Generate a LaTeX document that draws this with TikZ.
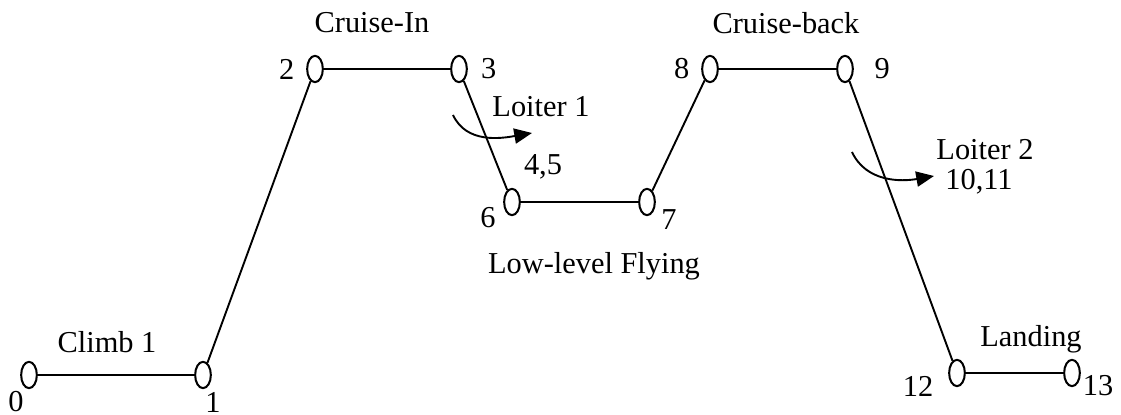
\documentclass[tikz,border=0pt]{standalone}
\usepackage{fontspec}
\setmainfont{Liberation Serif}
\usetikzlibrary{arrows.meta,positioning,shapes.geometric}

\begin{document}
\begin{tikzpicture}[
  x=0.395pt, y=-0.395pt,
  wpt/.style={ellipse, draw=black, line width=0.8pt, fill=white,
    minimum width=6.2pt, minimum height=10.4pt, inner sep=0pt},
  leg/.style={line width=0.75pt},
  num/.style={inner sep=0pt, font=\fontsize{12}{14}\selectfont},
  phase/.style={inner sep=0pt, font=\fontsize{12}{14}\selectfont},
  turn/.style={line width=0.75pt, -{Triangle[length=7pt, width=6pt]}},
]
  \useasboundingbox (0,0) rectangle (1121,415);

  % mission points
  \node[wpt] (p0)  at (29,375)   {};
  \node[wpt] (p1)  at (203,375)  {};
  \node[wpt] (p2)  at (315,69)   {};
  \node[wpt] (p3)  at (459,69)   {};
  \node[wpt] (p6)  at (512,202)  {};
  \node[wpt] (p7)  at (647,202)  {};
  \node[wpt] (p8)  at (710,69)   {};
  \node[wpt] (p9)  at (845,69)   {};
  \node[wpt] (p12) at (957,373)  {};
  \node[wpt] (p13) at (1072,373) {};

  \draw[leg] (p0) -- (p1);
  \draw[leg] (p1) -- (p2);
  \draw[leg] (p2) -- (p3);
  \draw[leg] (p3) -- (p6);
  \draw[leg] (p6) -- (p7);
  \draw[leg] (p7) -- (p8);
  \draw[leg] (p8) -- (p9);
  \draw[leg] (p9) -- (p12);
  \draw[leg] (p12) -- (p13);

  % point numbers
  \node[num] (n0)  at (16,402)   {0};
  \node[num] (n1)  at (213,402)  {1};
  \node[num, left=4.5pt of p2]  (n2)  {2};
  \node[num, right=5pt of p3]   (n3)  {3};
  \node[num] (n6)  at (488,218)  {6};
  \node[num] (n7)  at (669,220)  {7};
  \node[num, left=4.5pt of p8]  (n8)  {8};
  \node[num, right=8pt of p9]   (n9)  {9};
  \node[num] (n12) at (918,386)  {12};
  \node[num] (n13) at (1098,386) {13};

  % phases
  \node[phase] (climb)   at (107,342) {Climb 1};
  \node[phase] (cruin)   at (372,23)  {Cruise-In};
  \node[phase] (loit1)   at (541,107) {Loiter 1};
  \node[phase] (l45)     at (543,167) {4,5};
  \node[phase] (low)     at (594,266) {Low-level Flying};
  \node[phase] (cruback) at (786,23)  {Cruise-back};
  \node[phase] (loit2)   at (985,150) {Loiter 2};
  \node[phase] (l1011)   at (979,182) {10,11};
  \node[phase] (land)    at (1031,339) {Landing};

  % loiter turns
  \coordinate (t1a) at (453,115);
  \coordinate (t1b) at (532,133);
  \draw[turn] (t1a) to[out=-65, in=190] (t1b);
  \coordinate (t2a) at (852,152);
  \coordinate (t2b) at (934,176);
  \draw[turn] (t2a) to[out=-65, in=190] (t2b);
\end{tikzpicture}
\end{document}
